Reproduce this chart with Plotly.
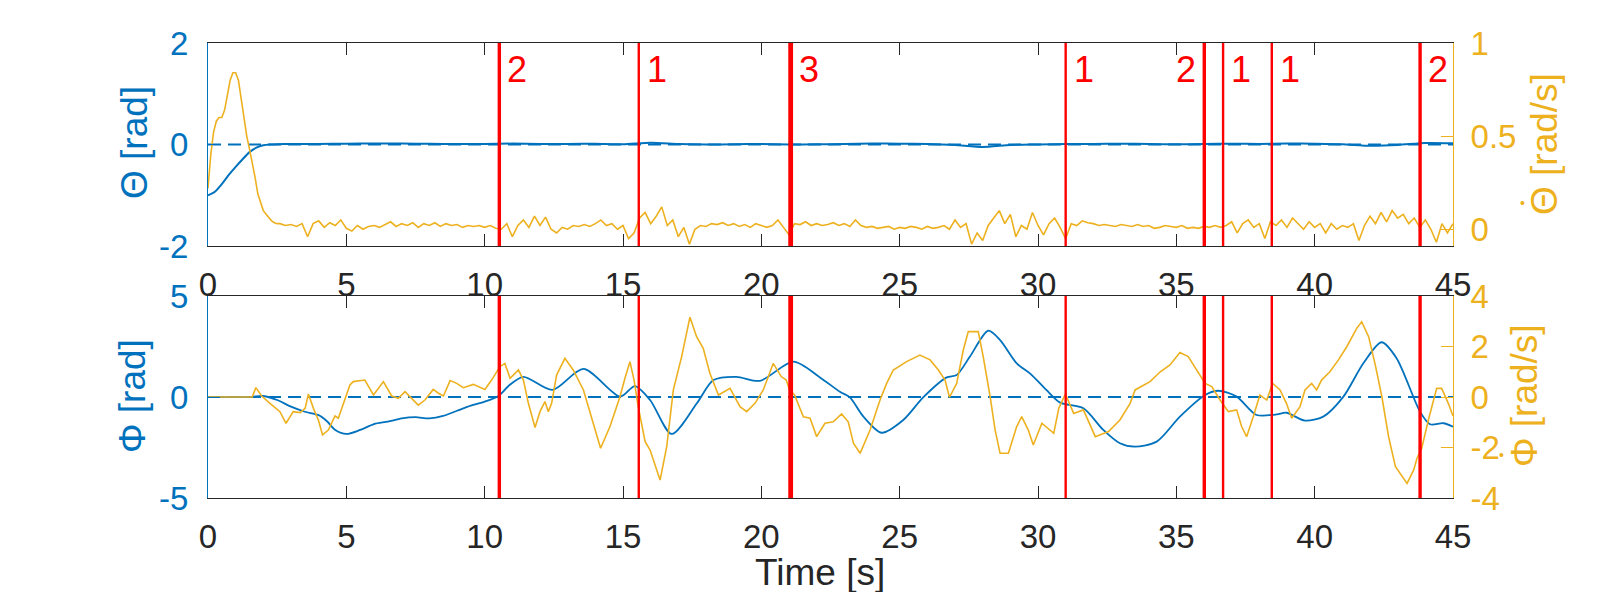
import numpy as np
import plotly.graph_objects as go

# ---------------- data ----------------
# Top panel: Theta [rad] (left axis)
THETA_T = [0, 0.25, 0.5, 0.75, 1.0, 1.25, 1.5, 1.75, 2.0, 2.25, 2.5,
           3, 4, 5, 6, 7, 8, 9, 10, 11, 12, 13, 14, 15, 16, 17, 18, 19, 20,
           21, 22, 23, 24, 25, 26, 27, 28, 29, 30, 31, 32, 33, 34, 35, 36,
           37, 38, 39, 40, 41, 42, 43, 44, 45]
THETA = [-1.0, -0.93, -0.78, -0.6, -0.44, -0.29, -0.15, -0.06, -0.015, 0.0, 0.005,
         0.01, 0.012, 0.015, 0.02, 0.018, 0.015, 0.01, 0.012, 0.018, 0.01, 0.012,
         0.015, 0.005, 0.035, 0.01, 0.0, 0.005, 0.01, 0.0, 0.005, 0.01, 0.02,
         0.015, 0.01, -0.01, -0.05, -0.01, 0.0, 0.01, 0.012, 0.015, 0.01, 0.005,
         0.01, 0.015, 0.01, 0.02, 0.015, 0.005, -0.025, -0.01, 0.03, 0.025]

# Top panel: Theta-dot [rad/s] (right axis)
THETA_DOT_EARLY_T = [0, 0.1, 0.2, 0.3, 0.4, 0.5, 0.6, 0.7, 0.8, 0.9, 1.0, 1.1, 1.2,
                     1.3, 1.4, 1.5, 1.6, 1.7, 1.8, 1.9, 2.0, 2.1, 2.2, 2.3, 2.4, 2.5]
THETA_DOT_EARLY = [0.22, 0.40, 0.52, 0.58, 0.60, 0.60, 0.64, 0.73, 0.80, 0.84, 0.84,
                   0.80, 0.70, 0.58, 0.50, 0.43, 0.36, 0.28, 0.19, 0.14, 0.10, 0.08,
                   0.06, 0.045, 0.035, 0.03]
THETA_DOT_LATE_START = 2.6   # samples every 0.2 s from here
THETA_DOT_LATE_STEP = 0.2
THETA_DOT_LATE = [
    0.03, 0.02, 0.025, 0.015, 0.03,
    -0.04, 0.03, 0.045, 0.01, 0.035,
    0.02, 0.05, 0.005, -0.01, 0.02,
    0.0, 0.015, 0.02, 0.01, 0.025,
    0.04, 0.015, 0.03, 0.02, 0.035,
    0.01, 0.03, 0.02, 0.035, 0.015,
    0.03, 0.02, 0.025, 0.01, 0.02,
    0.015, 0.02, 0.01, 0.02, 0.005,
    0.0, 0.03, -0.04, 0.02, 0.05,
    0.01, 0.07, 0.02, 0.065, 0.0,
    -0.02, 0.01, 0.0, 0.02, 0.015,
    0.025, 0.015, 0.03, 0.05, 0.02,
    0.03, 0.0, 0.02, -0.05, -0.02,
    0.06, 0.09, 0.03, 0.07, 0.12,
    0.02, 0.05, -0.04, 0.01, -0.08,
    0.0, 0.02, 0.015, 0.03, 0.025,
    0.035, 0.02, 0.03, 0.015, 0.025,
    0.01, 0.03, 0.02, 0.01, 0.02,
    0.05, 0.01, -0.03, 0.03, 0.025,
    0.04, 0.02, 0.03, 0.02, 0.025,
    0.035, 0.02, 0.03, 0.015, 0.05,
    0.02, 0.01, 0.015, 0.005, 0.01,
    0.015, 0.0, 0.01, 0.005, 0.015,
    0.01, 0.0, 0.015, 0.005, 0.01,
    0.02, 0.0, 0.05, 0.01, 0.03,
    -0.08, -0.02, -0.06, 0.02, 0.06,
    0.1, 0.03, 0.08, -0.04, 0.02,
    0.0, 0.09, 0.02, -0.03, 0.03,
    0.06, 0.01, -0.05, 0.03, 0.02,
    0.045, 0.035, 0.03, 0.02, 0.025,
    0.02, 0.015, 0.025, 0.02, 0.015,
    0.025, 0.015, 0.02, 0.005, 0.01,
    0.02, 0.015, 0.01, 0.02, 0.005,
    0.01, 0.005, 0.015, 0.01, 0.02,
    0.01, 0.02, 0.04, -0.02, 0.03,
    0.05, 0.01, 0.03, -0.05, 0.04,
    0.02, 0.05, 0.01, 0.06, 0.03,
    0.0, 0.04, 0.01, 0.03, -0.02,
    0.03, 0.0, 0.02, 0.01, 0.03,
    -0.06, 0.02, 0.07, 0.03, 0.09,
    0.04, 0.1, 0.06, 0.08, 0.03,
    0.06, 0.01, 0.05, 0.0, -0.07,
    0.03, -0.02, 0.03]

# Bottom panel: Phi [rad] (left axis)
PHI_T = [0, 1.5, 2.0, 2.5, 3.0, 3.5, 4.0, 4.3, 4.6, 5.0, 5.5, 6.0, 6.5, 7.0, 7.5, 8.0,
         8.5, 9.0, 9.5, 10.0, 10.5, 10.9, 11.4, 12.45, 13.57, 14.9, 15.43, 15.98,
         16.76, 17.67, 18.27, 19.1, 19.95, 21.16, 22.12, 22.84, 23.2, 23.69, 24.35,
         25.13, 25.85, 26.7, 27.06, 27.54, 28.2, 28.63, 29.23, 29.71, 30.3, 30.8,
         31.64, 32.36, 32.96, 33.5, 34.29, 35.13, 36.04, 36.52, 37.18, 37.9, 38.63,
         38.98, 39.65, 40.31, 41.04, 41.76, 42.42, 42.96, 43.81, 44.17, 44.65, 45.0]
PHI = [0, 0, 0.05, -0.15, -0.48, -0.73, -0.9, -1.2, -1.63, -1.83, -1.63, -1.34, -1.22,
       -1.06, -1.0, -1.06, -0.94, -0.68, -0.43, -0.23, 0.05, 0.59, 1.0, 0.35, 1.39,
       0.02, 0.54, -0.15, -1.83, -0.31, 0.84, 1.0, 0.8, 1.75, 0.97, 0.26, -0.02,
       -0.97, -1.77, -1.14, -0.02, 0.97, 1.09, 2.0, 3.28, 2.82, 1.67, 1.17, 0.35,
       -0.28, -0.56, -1.63, -2.29, -2.46, -2.21, -0.97, 0.1, 0.31, 0.02, -0.89,
       -0.86, -0.78, -1.17, -0.97, 0.02, 1.67, 2.71, 1.92, -0.73, -1.35, -1.30, -1.47]

# Bottom panel: Phi-dot [rad/s] (right axis)
PHI_DOT_T = [0, 1.6, 1.73, 1.94, 2.24, 2.6, 2.82, 3.08, 3.33, 3.51, 3.63, 3.81, 3.99,
             4.14, 4.35, 4.59, 4.71, 4.95, 5.13, 5.25, 5.67, 5.98, 6.34, 6.64, 6.88,
             7.12, 7.36, 7.6, 7.84, 8.14, 8.33, 8.51, 8.75, 8.99, 9.23, 9.59, 10.01,
             10.25, 10.55, 10.73, 10.92, 11.22, 11.4, 11.58, 11.82, 12.0, 12.18, 12.3,
             12.42, 12.6, 12.9, 13.2, 13.57, 13.87, 14.19, 14.53, 14.89, 15.07, 15.25,
             15.4, 15.55, 15.8, 15.98, 16.34, 16.58, 16.82, 17.12, 17.42, 17.66, 17.9,
             18.14, 18.45, 18.87, 19.23, 19.47, 19.77, 20.07, 20.43, 20.72, 20.9, 21.02,
             21.2, 21.52, 21.76, 22.0, 22.3, 22.6, 22.9, 23.14, 23.33, 23.57, 23.93,
             24.29, 24.53, 24.77, 25.25, 25.73, 26.1, 26.4, 26.64, 26.8, 27.06, 27.3,
             27.48, 27.84, 28.02, 28.27, 28.45, 28.63, 28.93, 29.23, 29.41, 29.65,
             29.83, 30.14, 30.57, 30.75, 30.99, 31.29, 31.64, 31.89, 32.07, 32.55,
             32.96, 33.33, 33.51, 34.05, 34.42, 34.77, 35.13, 35.43, 35.73, 36.04,
             36.28, 36.58, 36.88, 37.18, 37.36, 37.54, 37.78, 38.02, 38.27, 38.48,
             38.75, 38.98, 39.17, 39.47, 39.65, 39.89, 40.07, 40.25, 40.55, 40.86,
             41.16, 41.52, 41.7, 41.95, 42.19, 42.43, 42.67, 42.92, 43.34, 43.58,
             43.7, 43.87, 44.11, 44.41, 44.59, 44.83, 45.0]
PHI_DOT = [0, 0, 0.37, 0.04, -0.25, -0.58, -1.04, -0.58, -0.62, -0.45, 0.12, -0.45,
           -0.91, -1.5, -1.31, -0.75, -0.84, -0.05, 0.48, 0.61, 0.67, 0.08, 0.61, 0.04,
           -0.05, 0.21, -0.05, -0.32, -0.12, 0.3, 0.15, 0.04, 0.65, 0.54, 0.37, 0.5,
           0.3, 0.67, 1.2, 1.33, 0.74, 1.07, 0.67, -0.25, -1.21, -0.58, -0.18, -0.58,
           -0.25, 0.87, 1.53, 1.07, 0.28, -0.84, -2.03, -1.17, 0.01, 0.74, 1.4, 0.67,
           -0.38, -1.77, -2.1, -3.29, -1.97, 0.28, 1.6, 3.16, 2.39, 1.93, 0.94, 0.08,
           0.34, -0.38, -0.58, -0.25, 0.28, 1.33, 0.81, 0.67, 0.28, 0.08, -0.78, -0.84,
           -1.57, -1.04, -0.98, -0.67, -0.98, -1.83, -2.23, -1.31, -0.12, 0.54, 1.07,
           1.4, 1.66, 1.47, 1.07, 0.67, -0.01, 0.54, 1.86, 2.59, 2.59, 1.6, 0.01, -1.31,
           -2.23, -2.23, -1.17, -0.78, -1.31, -1.9, -1.04, -1.44, -0.45, 0.12, -0.65,
           -0.51, -1.17, -1.57, -1.37, -0.91, -0.25, 0.28, 0.61, 1.0, 1.27, 1.76, 1.6,
           1.07, 0.54, 0.41, -0.12, -0.58, -0.51, -1.17, -1.57, -0.78, 0.08, -0.12,
           0.54, 0.28, -0.25, -0.84, -0.38, 0.28, 0.54, 0.28, 0.67, 1.0, 1.47, 1.99,
           2.72, 2.98, 2.39, 1.27, 0.01, -1.57, -2.76, -3.42, -2.89, -2.43, -2.03,
           -0.91, 0.34, 0.34, -0.25, -0.75]

# Events (vertical red lines) and their labels
EVENT_T = [10.53, 15.57, 21.06, 31.0, 36.01, 36.69, 38.45, 43.81]
EVENT_LABEL = [2, 1, 3, 1, 2, 1, 1, 2]
EVENT_LABEL_SIDE = ['right', 'right', 'right', 'right', 'left', 'right', 'right', 'right']

X_TICKS = [0, 5, 10, 15, 20, 25, 30, 35, 40, 45]

# ---------------- styling ----------------
W, H = 1607, 592
BLUE = '#0072BD'
YELLOW = '#EDB120'
RED = '#FF0000'
DARK = '#262626'
FONT = 'Liberation Sans, Arial, Helvetica, sans-serif'
TICK_SIZE = 33
LABEL_SIZE = 37
EVENT_SIZE = 36

XL, XR = 208, 1453
TOP_T, TOP_B = 43, 246
BOT_T, BOT_B = 296, 498


def px(x):
    return x / W


def py(y):
    return (H - y) / H


theta_dot_t = list(THETA_DOT_EARLY_T) + list(
    np.round(THETA_DOT_LATE_START + THETA_DOT_LATE_STEP * np.arange(len(THETA_DOT_LATE)), 3))
theta_dot = list(THETA_DOT_EARLY) + list(THETA_DOT_LATE)

fig = go.Figure()
fig.add_trace(go.Scatter(x=THETA_T, y=THETA, mode='lines', xaxis='x', yaxis='y',
                         line=dict(color=BLUE, width=2, shape='spline', smoothing=0.6),
                         showlegend=False, hoverinfo='skip'))
fig.add_trace(go.Scatter(x=theta_dot_t, y=theta_dot, mode='lines', xaxis='x', yaxis='y2',
                         line=dict(color=YELLOW, width=1.6), showlegend=False, hoverinfo='skip'))
fig.add_trace(go.Scatter(x=PHI_T, y=PHI, mode='lines', xaxis='x2', yaxis='y3',
                         line=dict(color=BLUE, width=1.8, shape='spline', smoothing=0.8),
                         showlegend=False, hoverinfo='skip'))
fig.add_trace(go.Scatter(x=PHI_DOT_T, y=PHI_DOT, mode='lines', xaxis='x2', yaxis='y4',
                         line=dict(color=YELLOW, width=1.6), showlegend=False, hoverinfo='skip'))

xcommon = dict(range=[0, 45], tickvals=X_TICKS, ticktext=[str(v) for v in X_TICKS],
               ticks='inside', ticklen=12, tickwidth=1, tickcolor=DARK,
               showline=True, linecolor=DARK, linewidth=1, mirror='ticks',
               showgrid=False, zeroline=False, domain=[px(XL), px(XR)],
               tickfont=dict(family=FONT, size=TICK_SIZE, color=DARK),
               ticklabelstandoff=9, automargin=False)


def yax(rng, vals, texts, color, dom, side='left', overlay=None, anchor='x', standoff=12):
    d = dict(range=rng, tickvals=vals, ticktext=texts, ticks='inside', ticklen=12,
             tickwidth=1, tickcolor=color, showline=True, linecolor=color, linewidth=1,
             showgrid=False, zeroline=False, side=side, anchor=anchor,
             tickfont=dict(family=FONT, size=TICK_SIZE, color=color),
             ticklabelstandoff=standoff, automargin=False)
    if overlay:
        d['overlaying'] = overlay
    else:
        d['domain'] = dom
    return d


shapes = []
# dashed zero reference lines
for xr, yr in [('x', 'y'), ('x2', 'y3')]:
    shapes.append(dict(type='line', xref=xr, yref=yr, x0=0, x1=45, y0=0, y1=0,
                       line=dict(color=BLUE, width=1.8, dash='13px,7px'), layer='below'))

widths = {1: 2.4, 2: 3.4, 3: 4.8}
for t, lab in zip(EVENT_T, EVENT_LABEL):
    for xr, yr in [('x', 'y domain'), ('x2', 'y3 domain')]:
        shapes.append(dict(type='line', xref=xr, yref=yr, x0=t, x1=t, y0=0, y1=1,
                           line=dict(color=RED, width=widths[lab]), layer='above'))

annotations = []
for t, lab, side in zip(EVENT_T, EVENT_LABEL, EVENT_LABEL_SIDE):
    annotations.append(dict(x=t, xref='x', y=py(69), yref='paper', text=str(lab),
                            showarrow=False, xanchor='left' if side == 'right' else 'right',
                            xshift=6 if side == 'right' else -6, yanchor='middle',
                            font=dict(family=FONT, size=EVENT_SIZE, color=RED)))

titles = [
    ('Θ [rad]', 134, 143, BLUE),
    ('Φ [rad]', 133, 396, BLUE),
    ('Θ [rad/s]', 1545, 144, YELLOW),
    ('Φ [rad/s]', 1525, 396, YELLOW),
]
for txt, x, y, c in titles:
    annotations.append(dict(x=px(x), y=py(y), xref='paper', yref='paper', text=txt,
                            textangle=-90, showarrow=False, xanchor='center',
                            yanchor='middle', font=dict(family=FONT, size=LABEL_SIZE, color=c)))
# time-derivative dots over Theta / Phi of the right-hand titles
for x, y in [(1522, 203), (1501, 455)]:
    annotations.append(dict(x=px(x), y=py(y), xref='paper', yref='paper', text='•',
                            showarrow=False, xanchor='center', yanchor='middle',
                            font=dict(family=FONT, size=14, color=YELLOW)))
annotations.append(dict(x=px(820), y=py(572), xref='paper', yref='paper',
                        text='Time [s]', showarrow=False, xanchor='center', yanchor='middle',
                        font=dict(family=FONT, size=LABEL_SIZE, color=DARK)))

fig.update_layout(
    width=W, height=H, autosize=False,
    margin=dict(l=0, r=0, t=0, b=0, autoexpand=False),
    paper_bgcolor='white', plot_bgcolor='white',
    font=dict(family=FONT, size=TICK_SIZE, color=DARK),
    xaxis=dict(xcommon, anchor='y'),
    xaxis2=dict(xcommon, anchor='y3'),
    yaxis=yax([-2, 2], [-2, 0, 2], ['-2', '0', '2'], BLUE, [py(TOP_B), py(TOP_T)], anchor='x'),
    yaxis2=yax([-0.09, 1], [0, 0.5, 1], ['0', '0.5', '1'], YELLOW, None, side='right',
               overlay='y', anchor='x', standoff=10),
    yaxis3=yax([-5, 5], [-5, 0, 5], ['-5', '0', '5'], BLUE, [py(BOT_B), py(BOT_T)], anchor='x2'),
    yaxis4=yax([-4, 4], [-4, -2, 0, 2, 4], ['-4', '-2', '0', '2', '4'], YELLOW, None,
               side='right', overlay='y3', anchor='x2', standoff=10),
    shapes=shapes,
    annotations=annotations,
    showlegend=False,
)

fig.write_html('out.html', config={'displayModeBar': False})
